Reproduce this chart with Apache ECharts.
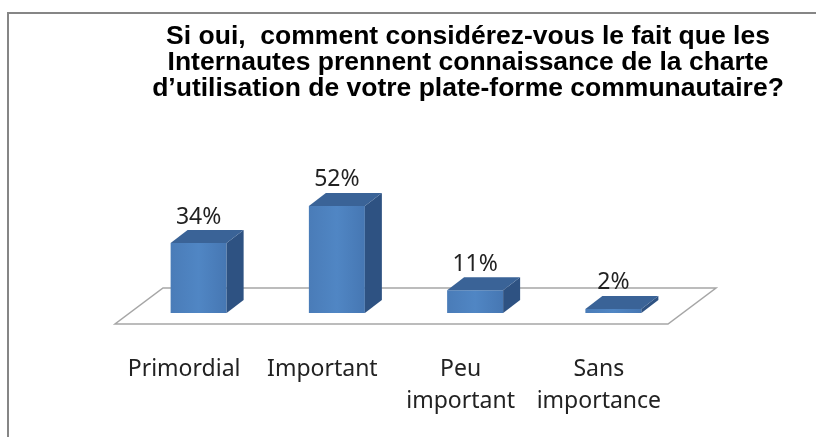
<!DOCTYPE html>
<html>
<head>
<meta charset="utf-8">
<script src="https://cdn.jsdelivr.net/npm/echarts@6/dist/echarts.min.js"></script>
<style>
  html, body { margin: 0; padding: 0; background: #fff; }
  #chart { width: 816px; height: 437px; }
</style>
</head>
<body>
<div id="chart"></div>
<script>
// données
const categories = ['Primordial', 'Important', 'Peu important', 'Sans importance']
const values = [34, 52, 11, 2]
const titleText = 'Si oui,  comment considérez-vous le fait que les\nInternautes prennent connaissance de la charte\nd’utilisation de votre plate-forme communautaire?'

const labelFont = '"Noto Sans", "Open Sans", sans-serif'

// barre 3D : face avant + côté + dessus
function renderBar(params, api) {
  const i = api.value(0)
  const v = api.value(1)
  const base = api.coord([i, 0])
  const top = api.coord([i, v])
  const cx = base[0] + 14.5
  const by = base[1] - 11
  const ty = top[1] - 11
  const w = 56, dx = 17, dy = 13
  const x0 = cx - w / 2, x1 = cx + w / 2
  return {
    type: 'group',
    children: [
      {
        type: 'polygon',
        shape: { points: [[x0, ty], [x1, ty], [x1, by], [x0, by]] },
        style: {
          fill: new echarts.graphic.LinearGradient(0, 0, 1, 0, [
            { offset: 0, color: '#4a7cb8' },
            { offset: 0.5, color: '#5086c4' },
            { offset: 1, color: '#4677b3' }
          ])
        }
      },
      {
        type: 'polygon',
        shape: { points: [[x1, ty], [x1 + dx, ty - dy], [x1 + dx, by - dy], [x1, by]] },
        style: { fill: '#2e5282' }
      },
      {
        type: 'polygon',
        shape: { points: [[x0, ty], [x0 + dx, ty - dy], [x1 + dx, ty - dy], [x1, ty]] },
        style: { fill: '#3a6397' }
      },
      {
        type: 'text',
        x: cx,
        y: ty - 26,
        style: {
          text: v + '%',
          font: '23px ' + labelFont,
          fill: '#222',
          align: 'center',
          verticalAlign: 'middle'
        }
      }
    ]
  }
}

// plancher en perspective
function renderFloor(params) {
  const cs = params.coordSys
  const yb = cs.y + cs.height
  const dx = 48, dy = 36
  return {
    type: 'polygon',
    shape: {
      points: [
        [cs.x, yb],
        [cs.x + cs.width, yb],
        [cs.x + cs.width + dx, yb - dy],
        [cs.x + dx, yb - dy]
      ]
    },
    style: { fill: '#fff', stroke: '#a6a6a6', lineWidth: 1.5 }
  }
}

const chart = echarts.init(document.getElementById('chart'))
chart.setOption({
  animation: false,
  backgroundColor: '#fff',
  title: {
    text: titleText,
    left: 463,
    top: 19,
    textAlign: 'center',
    textStyle: {
      fontFamily: '"Liberation Sans", Arial, sans-serif',
      fontWeight: 'bold',
      fontSize: 26.5,
      lineHeight: 26,
      color: '#000'
    }
  },
  graphic: [
    {
      type: 'rect',
      shape: { x: 8, y: 13, width: 900, height: 500 },
      style: { fill: 'none', stroke: '#868686', lineWidth: 2 },
      silent: true
    }
  ],
  grid: { left: 115, right: 148, top: 118, bottom: 113 },
  xAxis: {
    type: 'category',
    data: categories,
    axisLine: { show: false },
    axisTick: { show: false },
    axisLabel: {
      margin: 29,
      interval: 0,
      fontFamily: labelFont,
      fontSize: 23,
      lineHeight: 32,
      color: '#222',
      formatter: (s) => s.replace(' ', '\n')
    }
  },
  yAxis: {
    type: 'value',
    min: 0,
    max: 100,
    show: false,
    splitLine: { show: false }
  },
  series: [
    {
      type: 'custom',
      name: 'floor',
      data: [0],
      renderItem: renderFloor,
      clip: false,
      z: 1,
      silent: true
    },
    {
      type: 'custom',
      name: 'bars',
      data: values.map((v, i) => [i, v]),
      encode: { x: 0, y: 1 },
      renderItem: renderBar,
      clip: false,
      z: 2
    }
  ]
})
</script>
</body>
</html>
